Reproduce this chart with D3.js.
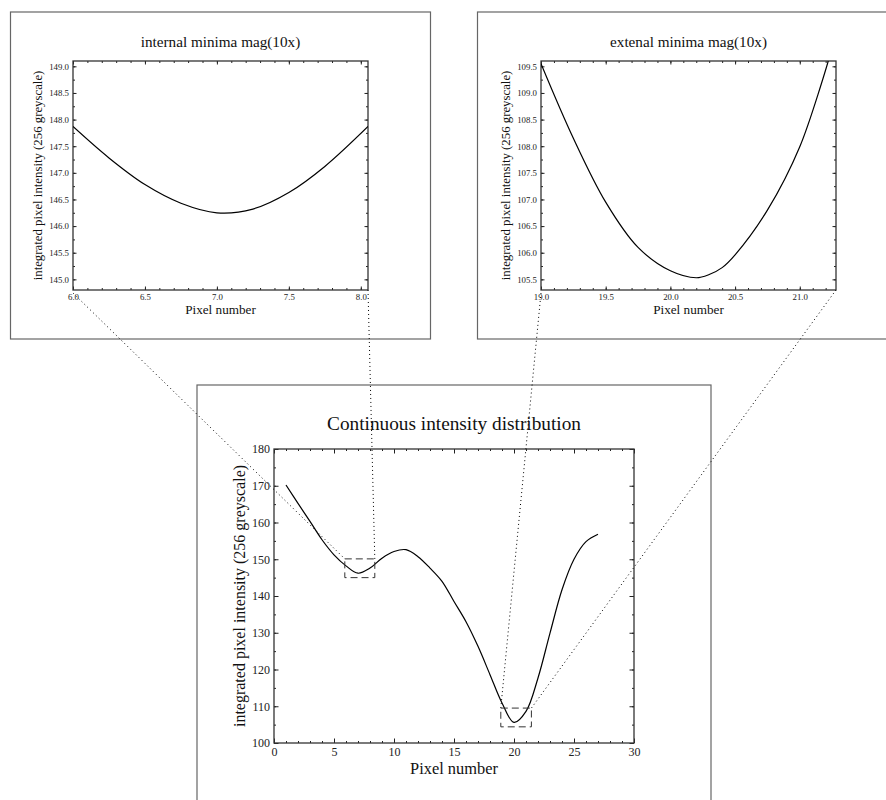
<!DOCTYPE html>
<html>
<head>
<meta charset="utf-8">
<script src="https://cdn.jsdelivr.net/npm/d3@7"></script>
<style>
  body { margin: 0; background: #fff; }
  svg { display: block; font-family: "Liberation Serif", "Times New Roman", serif; }
  .axis path { display: none; }
  .axis line { stroke: #222; }
</style>
</head>
<body>
<svg id="chart" width="886" height="800"></svg>
<script>
// main curve: pixel number vs integrated intensity
const pixelX = [1, 2, 3, 4, 5, 6, 7, 8, 9, 10, 11, 12, 13, 14, 15, 16, 17, 18, 19, 20, 21, 22, 23, 24, 25, 26, 27];
const intensity = [170.2, 165.2, 160.3, 155.3, 151.2, 148.2, 146.2, 147.6, 150.3, 152.1, 152.6, 150.7, 147.6, 144.0, 138.5, 133.0, 126.3, 118.6, 110.9, 105.6, 108.6, 117.7, 129.9, 141.7, 150.0, 154.8, 156.8];

// internal minimum, magnified
const innerX = [6.0, 6.25, 6.5, 6.75, 7.0, 7.25, 7.5, 7.75, 8.05];
const innerY = [147.87, 147.28, 146.78, 146.43, 146.25, 146.32, 146.63, 147.12, 147.87];

// external minimum, magnified
const outerX = [19.0, 19.25, 19.5, 19.75, 20.0, 20.2, 20.3, 20.4, 20.5, 20.75, 21.0, 21.22];
const outerY = [109.55, 108.15, 106.95, 106.1, 105.66, 105.53, 105.59, 105.72, 105.96, 106.8, 107.99, 109.6];

// zoom rectangles drawn on the main plot [x0, x1, y0, y1]
const innerBox = [5.9, 8.4, 145.0, 150.1];
const outerBox = [18.9, 21.45, 104.4, 109.5];

const yLabel = "integrated pixel intensity (256 greyscale)";
const xLabel = "Pixel number";

const svg = d3.select("#chart");

// outer frames around each figure
function frame(x, y, w, h) {
    svg.append("rect")
        .attr("x", x).attr("y", y).attr("width", w).attr("height", h)
        .attr("fill", "none").attr("stroke", "#666").attr("stroke-width", 1.2);
}
frame(10.5, 12, 420, 327);
frame(477.5, 12, 420, 327);
frame(197, 385, 514, 430);

function range(a, b, s) {
    const out = [];
    for (let v = a; v <= b + s / 1000; v += s) out.push(+v.toFixed(4));
    return out;
}

function panel(o) {
    const x = d3.scaleLinear().domain(o.xDomain).range([o.left, o.right]);
    const y = d3.scaleLinear().domain(o.yDomain).range([o.bottom, o.top]);
    const g = svg.append("g");
    const w = o.right - o.left, h = o.bottom - o.top;

    // minor ticks on all four sides
    const minorX = o.xMinor.filter(v => v >= o.xDomain[0] && v <= o.xDomain[1]);
    const minorY = o.yMinor.filter(v => v >= o.yDomain[0] && v <= o.yDomain[1]);
    g.append("g").attr("class", "axis").attr("transform", `translate(0,${o.bottom})`)
        .call(d3.axisBottom(x).tickValues(minorX).tickSize(-2).tickFormat(""));
    g.append("g").attr("class", "axis").attr("transform", `translate(0,${o.top})`)
        .call(d3.axisTop(x).tickValues(minorX).tickSize(-2).tickFormat(""));
    g.append("g").attr("class", "axis").attr("transform", `translate(${o.left},0)`)
        .call(d3.axisLeft(y).tickValues(minorY).tickSize(-2).tickFormat(""));
    g.append("g").attr("class", "axis").attr("transform", `translate(${o.right},0)`)
        .call(d3.axisRight(y).tickValues(minorY).tickSize(-2).tickFormat(""));

    // major ticks with labels
    const bx = g.append("g").attr("class", "axis").attr("transform", `translate(0,${o.bottom})`)
        .call(d3.axisBottom(x).tickValues(o.xTicks).tickSize(-o.tick).tickPadding(o.pad).tickFormat(d3.format(o.fmtX)));
    const ly = g.append("g").attr("class", "axis").attr("transform", `translate(${o.left},0)`)
        .call(d3.axisLeft(y).tickValues(o.yTicks).tickSize(-o.tick).tickPadding(o.pad).tickFormat(d3.format(o.fmtY)));
    g.append("g").attr("class", "axis").attr("transform", `translate(0,${o.top})`)
        .call(d3.axisTop(x).tickValues(o.xTicks).tickSize(-o.tick).tickFormat(""));
    g.append("g").attr("class", "axis").attr("transform", `translate(${o.right},0)`)
        .call(d3.axisRight(y).tickValues(o.yTicks).tickSize(-o.tick).tickFormat(""));
    [bx, ly].forEach(a => a.selectAll("text")
        .attr("font-family", "Liberation Serif").attr("font-size", o.tickFont).attr("fill", "#222"));

    g.append("rect")
        .attr("x", o.left).attr("y", o.top).attr("width", w).attr("height", h)
        .attr("fill", "none").attr("stroke", "#333").attr("stroke-width", 1.3);

    const clipId = "clip" + Math.round(o.left);
    g.append("clipPath").attr("id", clipId).append("rect")
        .attr("x", o.left).attr("y", o.top).attr("width", w).attr("height", h);

    const pts = o.xs.map((v, i) => [v, o.ys[i]]);
    g.append("path")
        .datum(pts)
        .attr("clip-path", `url(#${clipId})`)
        .attr("fill", "none").attr("stroke", "#000").attr("stroke-width", 1.2)
        .attr("d", d3.line().x(d => x(d[0])).y(d => y(d[1])).curve(d3.curveCatmullRom.alpha(0.5)));

    g.append("text")
        .attr("x", (o.left + o.right) / 2).attr("y", o.titleY)
        .attr("text-anchor", "middle").attr("font-size", o.titleFont).attr("fill", "#111")
        .text(o.title);
    g.append("text")
        .attr("x", (o.left + o.right) / 2).attr("y", o.xLabelY)
        .attr("text-anchor", "middle").attr("font-size", o.xLabelFont).attr("fill", "#111")
        .text(xLabel);
    g.append("text")
        .attr("transform", `translate(${o.yLabelX},${(o.top + o.bottom) / 2}) rotate(-90)`)
        .attr("text-anchor", "middle").attr("font-size", o.labelFont).attr("fill", "#111")
        .text(yLabel);

    return { x, y };
}

const insetStyle = {
    top: 61, bottom: 290, tick: 3.5, pad: 4,
    tickFont: 8.8, labelFont: 12.8, xLabelFont: 13.2, titleFont: 15.2,
    titleY: 47, xLabelY: 313.5, fmtX: ".1f", fmtY: ".1f"
};

const left = panel(Object.assign({}, insetStyle, {
    left: 73, right: 368, yLabelX: 42,
    xDomain: [6.0, 8.05], yDomain: [144.8, 149.1],
    xTicks: range(6, 8, 0.5), xMinor: range(6, 8.05, 0.1),
    yTicks: range(145, 149, 0.5), yMinor: range(144.75, 149.1, 0.25),
    xs: innerX, ys: innerY, title: "internal minima mag(10x)"
}));

const right = panel(Object.assign({}, insetStyle, {
    left: 541, right: 836, yLabelX: 510,
    xDomain: [19.0, 21.28], yDomain: [105.3, 109.6],
    xTicks: range(19, 21, 0.5), xMinor: range(19, 21.28, 0.1),
    yTicks: range(105.5, 109.5, 0.5), yMinor: range(105.25, 109.6, 0.25),
    xs: outerX, ys: outerY, title: "extenal minima mag(10x)"
}));

const main = panel({
    left: 274, right: 634, top: 449, bottom: 743, tick: 4.5, pad: 4,
    tickFont: 12, labelFont: 16, xLabelFont: 16.4, titleFont: 19.3,
    titleY: 429.5, xLabelY: 774, yLabelX: 245, fmtX: "d", fmtY: "d",
    xDomain: [0, 30], yDomain: [100, 180],
    xTicks: range(0, 30, 5), xMinor: range(0, 30, 1),
    yTicks: range(100, 180, 10), yMinor: range(100, 180, 5),
    xs: pixelX, ys: intensity, title: "Continuous intensity distribution"
});

// dashed zoom rectangles on the main plot
[innerBox, outerBox].forEach(b => {
    svg.append("rect")
        .attr("x", main.x(b[0])).attr("y", main.y(b[3]))
        .attr("width", main.x(b[1]) - main.x(b[0]))
        .attr("height", main.y(b[2]) - main.y(b[3]))
        .attr("fill", "none").attr("stroke", "#333").attr("stroke-width", 1)
        .attr("stroke-dasharray", "7,4");
});

// dotted connectors from inset corners to the zoom rectangles
function connector(px, py, qx, qy) {
    svg.append("line")
        .attr("x1", px).attr("y1", py).attr("x2", qx).attr("y2", qy)
        .attr("stroke", "#000").attr("stroke-width", 1)
        .attr("stroke-dasharray", "1,3");
}
const insets = [[left, innerBox], [right, outerBox]];
insets.forEach(([p, b]) => {
    const xd = p.x.domain(), yd = p.y.domain();
    connector(p.x(xd[0]), p.y(yd[0]) + 3, main.x(b[0]), main.y(b[3]));
    connector(p.x(xd[1]), p.y(yd[0]), main.x(b[1]), main.y(b[3]));
});
</script>
</body>
</html>
